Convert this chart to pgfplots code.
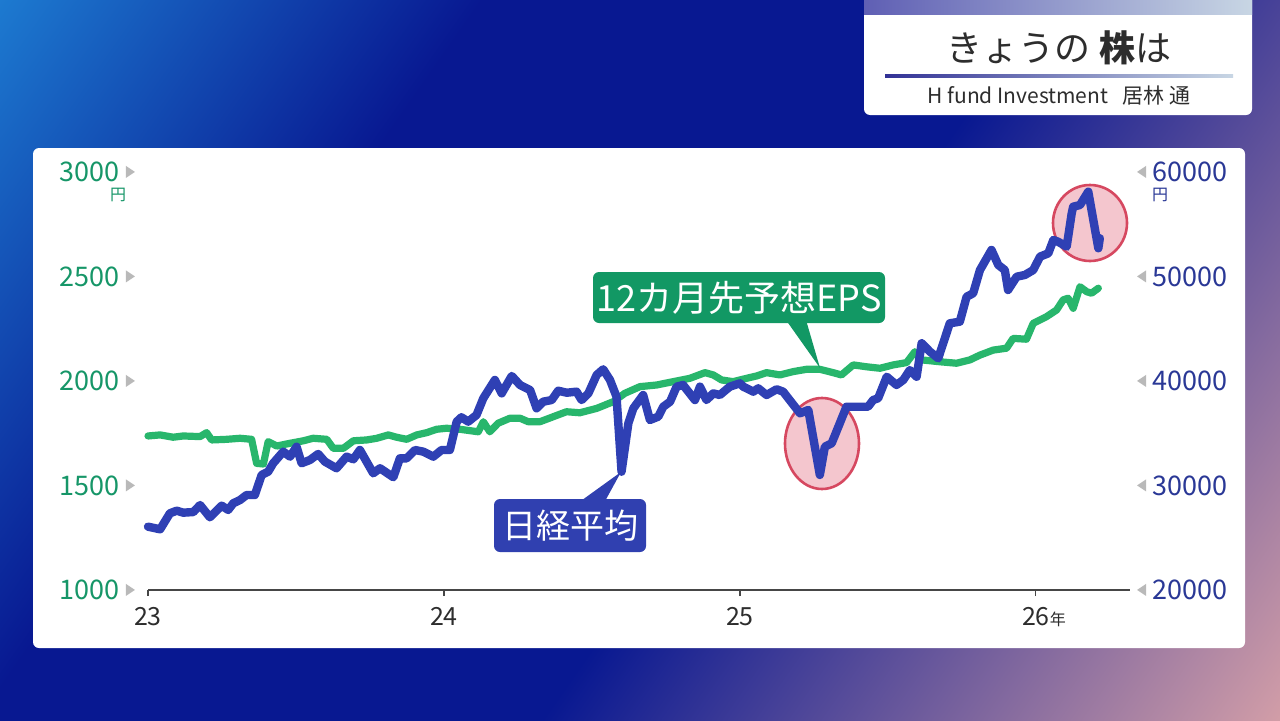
\documentclass[border=0pt]{standalone}
\usepackage{pgfplots}
\pgfplotsset{compat=1.18}
\usepackage{fontspec}
\setmainfont{Noto Sans CJK JP}
\definecolor{bgLight}{RGB}{30,128,212}
\definecolor{bgNavy}{RGB}{8,24,145}
\definecolor{bgPink}{RGB}{232,172,170}
\definecolor{epsLine}{RGB}{40,182,108}
\definecolor{epsBox}{RGB}{18,152,100}
\definecolor{epsText}{RGB}{22,150,104}
\definecolor{nkLine}{RGB}{47,64,180}
\definecolor{nkBox}{RGB}{48,64,176}
\definecolor{nkText}{RGB}{42,56,150}
\definecolor{axisGray}{RGB}{70,70,70}
\definecolor{triGray}{RGB}{185,185,185}
\definecolor{ringRed}{RGB}{214,72,96}
\definecolor{ringFill}{RGB}{244,198,206}
\definecolor{darkText}{RGB}{45,45,45}
\definecolor{stripA}{RGB}{95,95,180}
\definecolor{stripB}{RGB}{235,178,178}
\definecolor{stripC}{RGB}{200,214,228}
\definecolor{lineA}{RGB}{50,50,150}
\pgfdeclarehorizontalshading{bgshade}{100bp}{color(0bp)=(bgLight); color(14bp)=(bgLight); color(34bp)=(bgNavy); color(56bp)=(bgNavy); color(88bp)=(bgPink); color(100bp)=(bgPink)}
\newcommand{\rtri}{\tikz[baseline=-0.36em]\fill[triGray] (0,-3pt)--(4.5pt,0)--(0,3pt)--cycle;}
\newcommand{\ltri}{\tikz[baseline=-0.36em]\fill[triGray] (4.5pt,-3pt)--(0,0)--(4.5pt,3pt)--cycle;}
\begin{document}
\begin{tikzpicture}
\useasboundingbox (0,0) rectangle (640pt,360pt);
\shade[shading=bgshade, shading angle=-35] (0,0) rectangle (640pt,360pt);
\begin{scope}[shift={(0pt,360pt)}, x=0.5pt, y=-0.5pt]
  \fill[white, rounded corners=3pt] (864,-8) rectangle (1252,115);
  \shade[left color=stripA, middle color=stripB, right color=stripC] (864,-1) rectangle (1252,14);
  \node[text=darkText, font=\fontsize{18}{18}\selectfont, inner sep=0] at (1059,48) {きょうの {\bfseries 株}は};
  \shade[left color=lineA, middle color=stripB, right color=stripC] (885,74.5) rectangle (1233,77.5);
  \node[text=darkText, font=\fontsize{10.5}{10.5}\selectfont, inner sep=0] at (1059,96) {H fund Investment\hspace{0.7em}居林 通};
  \fill[white, rounded corners=3pt] (33,148) rectangle (1245,648);
  \filldraw[fill=ringFill, draw=ringRed, line width=1.3pt] (822,443.5) ellipse [x radius=37, y radius=45.5];
  \filldraw[fill=ringFill, draw=ringRed, line width=1.3pt] (1090,223) ellipse [x radius=37, y radius=38];
\end{scope}

\begin{axis}[
  at={(74pt,65pt)}, anchor=south west,
  scale only axis, width=491pt, height=209pt,
  xmin=23, xmax=26.318, ymin=1000, ymax=3000,
  axis x line*=bottom, axis y line*=left,
  x axis line style={draw=axisGray, line width=1pt, -},
  y axis line style={draw=none},
  xtick={23,24,25,26},
  xticklabels={23,24,25,{26\rlap{\fontsize{8}{8}\selectfont 年}}},
  x tick style={draw=axisGray, line width=0.6pt},
  major tick length=3pt, tick align=outside,
  xticklabel style={font=\fontsize{12.5}{12.5}\selectfont, text=darkText, yshift=-2pt},
  ytick={1000,1500,2000,2500,3000},
  yticklabels={{1000\hspace{3pt}\rtri},{1500\hspace{3pt}\rtri},{2000\hspace{3pt}\rtri},{2500\hspace{3pt}\rtri},{3000\hspace{3pt}\rtri}},
  ytick style={draw=none},
  scaled y ticks=false,
  yticklabel style={font=\fontsize{13.5}{13.5}\selectfont, text=epsText, anchor=east},
  clip=false,
]
\addplot[epsLine, line width=3.6pt, line join=round, line cap=round] coordinates {
(23.0,1737)(23.041,1742)(23.085,1731)(23.119,1737)(23.176,1734)(23.198,1753)(23.215,1718)(23.266,1721)(23.311,1726)(23.350,1721)(23.367,1606)(23.390,1603)(23.406,1710)(23.435,1689)(23.480,1702)(23.525,1714)(23.558,1726)(23.604,1721)(23.626,1678)(23.660,1678)(23.694,1714)(23.739,1718)(23.773,1726)(23.812,1742)(23.840,1731)(23.874,1721)(23.908,1742)(23.942,1753)(23.975,1769)(24.009,1774)(24.054,1769)(24.116,1757)(24.133,1805)(24.155,1757)(24.183,1798)(24.223,1822)(24.257,1822)(24.285,1805)(24.324,1805)(24.369,1829)(24.414,1853)(24.459,1848)(24.516,1869)(24.572,1901)(24.611,1941)(24.662,1973)(24.719,1981)(24.775,1997)(24.831,2013)(24.882,2040)(24.910,2029)(24.938,2005)(24.977,1997)(25.023,2013)(25.056,2024)(25.090,2040)(25.135,2029)(25.180,2045)(25.225,2056)(25.270,2056)(25.315,2040)(25.343,2029)(25.383,2077)(25.428,2068)(25.473,2061)(25.518,2077)(25.563,2088)(25.591,2140)(25.614,2101)(25.676,2092)(25.732,2085)(25.777,2101)(25.811,2124)(25.856,2148)(25.901,2157)(25.923,2204)(25.968,2200)(25.991,2276)(26.036,2308)(26.070,2340)(26.092,2388)(26.109,2396)(26.126,2348)(26.149,2451)(26.172,2427)(26.188,2420)(26.211,2444)
};
\end{axis}

\begin{axis}[
  at={(74pt,65pt)}, anchor=south west,
  scale only axis, width=491pt, height=209pt,
  xmin=23, xmax=26.318, ymin=20000, ymax=60000,
  hide x axis, axis y line*=right,
  y axis line style={draw=none},
  ytick={20000,30000,40000,50000,60000},
  yticklabels={{\ltri\hspace{3pt}20000},{\ltri\hspace{3pt}30000},{\ltri\hspace{3pt}40000},{\ltri\hspace{3pt}50000},{\ltri\hspace{3pt}60000}},
  ytick style={draw=none},
  scaled y ticks=false,
  yticklabel style={font=\fontsize{13.5}{13.5}\selectfont, text=nkText, anchor=west},
  clip=false,
]
\addplot[nkLine, line width=4.2pt, line join=round, line cap=round] coordinates {
(23.0,26060)(23.041,25810)(23.074,27340)(23.097,27590)(23.119,27400)(23.153,27460)(23.176,28130)(23.209,26960)(23.249,28070)(23.271,27660)(23.288,28300)(23.311,28610)(23.333,29090)(23.361,29090)(23.384,31010)(23.406,31320)(23.423,32130)(23.457,33240)(23.480,32760)(23.502,33710)(23.519,32130)(23.547,32440)(23.575,33020)(23.598,32280)(23.637,31650)(23.671,32760)(23.694,32510)(23.716,33400)(23.761,31170)(23.784,31650)(23.829,30790)(23.851,32600)(23.874,32600)(23.902,33400)(23.930,33240)(23.964,32760)(23.992,33400)(24.020,33400)(24.043,36110)(24.059,36530)(24.082,36110)(24.110,36750)(24.133,38350)(24.172,40100)(24.195,38820)(24.229,40480)(24.257,39620)(24.291,39140)(24.313,37390)(24.335,38020)(24.364,38180)(24.386,39070)(24.415,38880)(24.448,38980)(24.465,38180)(24.488,38820)(24.516,40580)(24.538,41120)(24.561,40100)(24.583,38500)(24.600,31320)(24.623,35950)(24.640,37390)(24.673,38660)(24.696,36270)(24.724,36590)(24.741,37540)(24.764,38020)(24.786,39460)(24.808,39620)(24.848,38180)(24.865,39460)(24.887,38180)(24.910,38820)(24.932,38660)(24.966,39460)(25.000,39780)(25.011,39460)(25.045,38980)(25.062,39300)(25.090,38660)(25.124,39210)(25.146,38980)(25.203,36910)(25.231,37230)(25.270,31010)(25.287,33710)(25.310,34040)(25.360,37540)(25.405,37540)(25.433,37540)(25.450,38180)(25.467,38350)(25.496,40410)(25.529,39620)(25.552,40100)(25.574,41050)(25.597,40410)(25.614,43610)(25.642,42810)(25.670,42170)(25.709,45520)(25.743,45680)(25.766,48070)(25.788,48390)(25.811,50620)(25.850,52540)(25.873,51100)(25.895,50620)(25.906,48710)(25.935,49980)(25.963,50150)(25.991,50620)(26.014,51900)(26.042,52220)(26.059,53500)(26.075,53330)(26.104,52850)(26.121,56050)(26.126,56680)(26.149,56840)(26.177,58120)(26.211,52700)(26.216,53660)
};
\end{axis}

\begin{scope}[shift={(0pt,360pt)}, x=0.5pt, y=-0.5pt]
  \node[text=epsText, font=\fontsize{8}{8}\selectfont, inner sep=0] at (118,195) {円};
  \node[text=nkText, font=\fontsize{8}{8}\selectfont, inner sep=0] at (1160,195) {円};
  \fill[epsBox] (786,320) -- (806,320) -- (820,368) -- cycle;
  \node[fill=epsBox, text=white, rounded corners=3pt, minimum width=146pt, minimum height=25.5pt, inner sep=0, font=\fontsize{18}{18}\selectfont] at (739,297.5) {12カ月先予想EPS};
  \fill[nkBox] (578,503) -- (604,503) -- (621,472) -- cycle;
  \node[fill=nkBox, text=white, rounded corners=3pt, minimum width=76pt, minimum height=26.5pt, inner sep=0, font=\fontsize{17}{17}\selectfont] at (570,525.5) {日経平均};
\end{scope}
\end{tikzpicture}
\end{document}
